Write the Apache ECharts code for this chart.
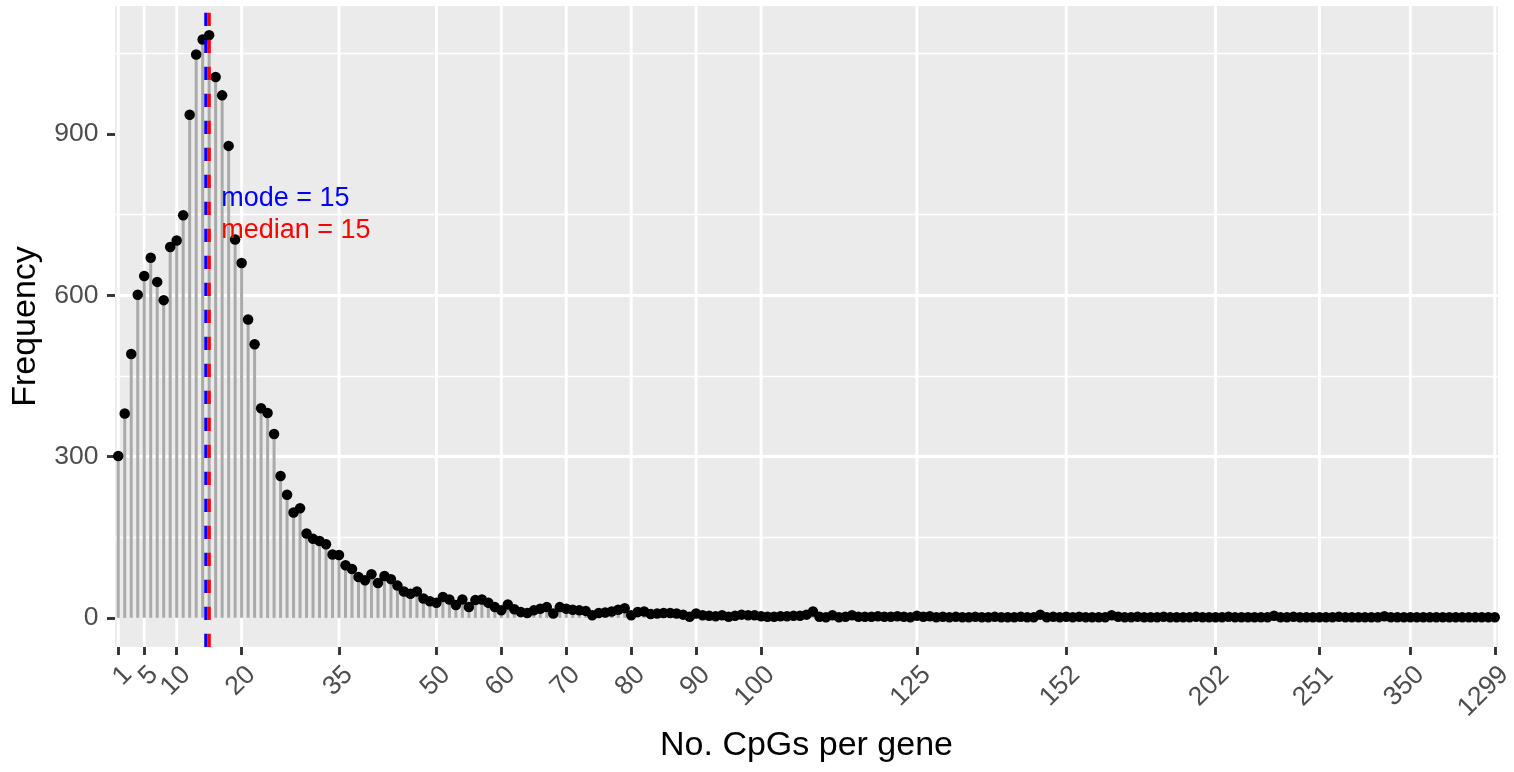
<!DOCTYPE html>
<html><head><meta charset="utf-8">
<script src="https://cdn.jsdelivr.net/npm/echarts@6/dist/echarts.min.js"></script>
<style>html,body{margin:0;padding:0;background:#fff}#c{width:1514px;height:772px}</style>
</head><body><div id="c"></div>
<script>
// ---- data ----
const cpgCategories = [
  1,2,3,4,5,6,7,8,9,10,11,12,13,14,15,16,17,18,19,20,
  21,22,23,24,25,26,27,28,29,30,31,32,33,34,35,36,37,38,39,40,
  41,42,43,44,45,46,47,48,49,50,51,52,53,54,55,56,57,58,59,60,
  61,62,63,64,65,66,67,68,69,70,71,72,73,74,75,76,77,78,79,80,
  81,82,83,84,85,86,87,88,89,90,91,92,93,94,95,96,97,98,99,100,
  101,102,103,104,105,106,107,108,109,110,111,112,113,114,115,116,117,118,120,121,122,123,124,
  125,
  126,127,128,129,130,131,132,133,134,135,136,137,138,140,141,142,143,145,146,148,149,151,
  152,
  153,154,155,156,157,158,160,161,163,164,166,168,170,172,175,177,180,183,186,190,194,198,
  202,
  204,207,210,213,216,219,222,226,229,232,236,239,242,245,248,
  251,
  256,262,267,273,279,285,291,298,305,313,322,331,340,
  350,
  362,378,395,415,440,468,505,552,615,702,840,1020,
  1299
];
const frequencies = [
  301,380,491,601,636,670,625,591,690,702,
  749,936,1048,1076,1084,1006,972,878,704,660,
  555,509,390,381,342,264,229,196,204,157,
  147,143,137,118,117,98,91,76,70,81,
  65,78,72,60,49,45,49,
  36,31,28,39,34,24,34,20,33,34,
  28,20,14,25,16,11,9,14,17,20,
  8,20,17,15,14,13,5,9,10,12,
  15,18,5,11,12,7,8,9,9,8,
  6,2,8,
  5,4,3,5,2,4,6,5,5,3,
  2,2,3,3,4,4,6,12,2,1,5,1,2,5,2,2,2,3,2,2,3,2,1,
  4,
  2,3,1,2,1,2,1,1,2,1,1,2,1,1,1,2,1,1,6,1,2,1,
  2,
  1,2,1,1,1,1,5,2,1,1,2,1,1,1,2,1,1,1,1,2,1,1,
  1,
  1,2,1,1,1,1,1,1,4,1,1,2,1,1,1,
  1,
  1,1,2,1,1,1,1,1,1,3,1,1,1,
  1,
  1,1,1,1,1,1,1,1,1,1,1,1,
  1
];
const tickLabels = [1,5,10,20,35,50,60,70,80,90,100,125,152,202,251,350,1299];
const yTicks = [0,300,600,900];
const modeValue = 15;
const medianValue = 15;
const annotationX = 17;
const annotationY = [780, 720];
const annotationText = ['mode = ' + modeValue, 'median = ' + medianValue];

// ---- chart ----
const FONT = "'Liberation Sans', Arial, Helvetica, sans-serif";
const catStr = cpgCategories.map(String);
const labelSet = new Set(tickLabels.map(String));
const fmax = Math.max(...frequencies);
const yMin = -0.05 * fmax, yMax = fmax * 1.05;

function vline(catValue, color, shiftBands, z) {
  return {
    type: 'custom', z: z, silent: true, clip: false,
    data: [[String(catValue), 0]], encode: {x: 0, y: 1},
    renderItem: function (params, api) {
      const p = api.coord([api.value(0), 0]);
      const band = api.size([1, 0])[0];
      const cs = params.coordSys;
      const x = p[0] + shiftBands * band;
      return {type: 'line', shape: {x1: x, y1: cs.y + cs.height, x2: x, y2: cs.y},
        style: {stroke: color, lineWidth: 3.3, lineDash: [13.3, 13.7], lineCap: 'butt', fill: null}};
    }
  };
}
function textMark(catValue, yVal, text, color) {
  return {
    type: 'custom', z: 6, silent: true, clip: false,
    data: [[String(catValue), yVal]], encode: {x: 0, y: 1},
    renderItem: function (params, api) {
      const p = api.coord([api.value(0), api.value(1)]);
      return {type: 'text', x: p[0] - 1, y: p[1],
        style: {text: text, fill: color, font: '27px ' + FONT,
          textAlign: 'left', textVerticalAlign: 'middle', align: 'left', verticalAlign: 'middle'}};
    }
  };
}

const chart = echarts.init(document.getElementById('c'), null, {renderer: 'canvas'});
chart.setOption({
  animation: false,
  grid: {left: 115, right: 16, top: 6, bottom: 125, show: true, backgroundColor: '#EBEBEB',
    borderWidth: 0, containLabel: false, outerBoundsMode: 'none'},
  xAxis: {
    type: 'category', data: catStr, boundaryGap: true, position: 'bottom',
    name: 'No. CpGs per gene', nameLocation: 'middle', nameGap: 81,
    nameTextStyle: {fontFamily: FONT, fontSize: 34, color: '#000'},
    axisLine: {show: false, onZero: false},
    axisTick: {show: true, alignWithLabel: true, interval: (i, v) => labelSet.has(v), length: 8,
      lineStyle: {color: '#333333', width: 2.9}},
    axisLabel: {show: true, interval: (i, v) => labelSet.has(v), rotate: 45, align: 'right',
      verticalAlign: 'top', margin: 14, fontFamily: FONT, fontSize: 26.5, color: '#4D4D4D'},
    splitLine: {show: false}
  },
  yAxis: {
    type: 'value', min: yMin, max: yMax, splitNumber: 4,
    name: 'Frequency', nameLocation: 'middle', nameGap: 72,
    nameTextStyle: {fontFamily: FONT, fontSize: 34, color: '#000'},
    axisLine: {show: false, onZero: false},
    axisTick: {show: true, length: 8, customValues: yTicks, lineStyle: {color: '#333333', width: 2.9}},
    axisLabel: {customValues: yTicks, margin: 16.5, fontFamily: FONT, fontSize: 26.5, color: '#4D4D4D'},
    splitLine: {show: true, showMinLine: false, showMaxLine: false, lineStyle: {color: '#FFFFFF', width: 2.9}},
    minorTick: {show: false, splitNumber: 2},
    minorSplitLine: {show: true, lineStyle: {color: '#FFFFFF', width: 1.45}}
  },
  series: [
    {
      type: 'custom', z: 1, silent: true,
      data: tickLabels.map(v => [String(v), 0]), encode: {x: 0, y: 1},
      renderItem: function (params, api) {
        const p = api.coord([api.value(0), 0]);
        const cs = params.coordSys;
        return {type: 'line', shape: {x1: p[0], y1: cs.y, x2: p[0], y2: cs.y + cs.height},
          style: {stroke: '#FFFFFF', lineWidth: 2.9}};
      }
    },
    {type: 'bar', data: frequencies, barWidth: 3, z: 2, silent: true, itemStyle: {color: '#AAAAAA'}},
    {type: 'scatter', data: frequencies, symbolSize: 10.5, z: 3, silent: true,
      itemStyle: {color: '#000000', opacity: 1}},
    vline(modeValue, '#0000FF', -0.5, 4),
    vline(medianValue, '#FF0000', 0, 5),
    textMark(annotationX, annotationY[0], annotationText[0], '#0000FF'),
    textMark(annotationX, annotationY[1], annotationText[1], '#FF0000')
  ]
});
</script>
</body></html>
